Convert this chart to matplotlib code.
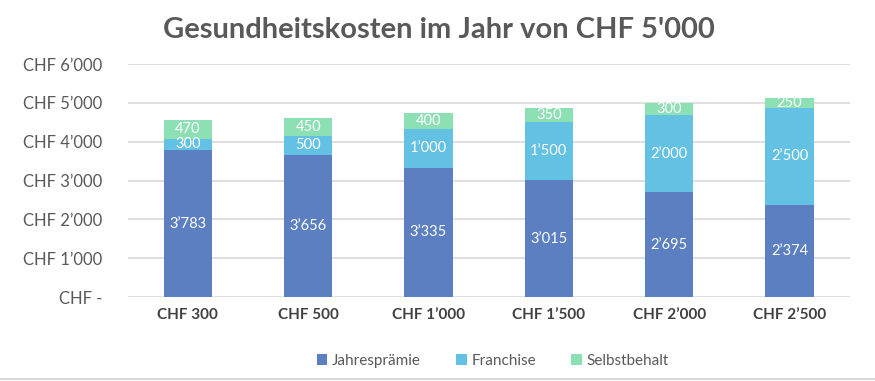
import matplotlib.pyplot as plt
import numpy as np

plt.rcParams['font.family'] = ['Lato', 'DejaVu Sans']

# Daten
kategorien = ["CHF 300", "CHF 500", "CHF 1\u2019000", "CHF 1\u2019500", "CHF 2\u2019000", "CHF 2\u2019500"]
jahrespraemie = [3783, 3656, 3335, 3015, 2695, 2374]
franchise = [300, 500, 1000, 1500, 2000, 2500]
selbstbehalt = [470, 450, 400, 350, 300, 250]

farben = ['#5b7fc1', '#63c1e3', '#8ddfb4']
namen = ['Jahresprämie', 'Franchise', 'Selbstbehalt']


def fmt(v):
    return f"{v:,}".replace(',', '\u2019')


fig = plt.figure(figsize=(8.75, 3.81), dpi=100)
ax = fig.add_axes([0.146, 0.22, 0.825, 0.612])

x = np.arange(len(kategorien))
unten = np.zeros(len(x))
for werte, farbe, name in zip([jahrespraemie, franchise, selbstbehalt], farben, namen):
    bars = ax.bar(x, werte, 0.4, bottom=unten, color=farbe, label=name, zorder=2)
    ax.bar_label(bars, labels=[fmt(v) for v in werte], label_type='center',
                 color='white', fontsize=10.5)
    unten += np.array(werte)

ax.set_xlim(-0.5, len(x) - 0.5)
ax.set_ylim(0, 6000)
ax.set_yticks(range(0, 6001, 1000))
ax.set_yticklabels(["CHF -"] + [f"CHF {fmt(v)}" for v in range(1000, 6001, 1000)])
ax.set_xticks(x)
ax.set_xticklabels(kategorien, fontweight='bold')
ax.tick_params(axis='y', length=0, pad=18, labelsize=12, labelcolor='#595959')
ax.tick_params(axis='x', length=0, pad=8, labelsize=11, labelcolor='#404040')
ax.grid(axis='y', color='#d9d9d9', linewidth=1.2, zorder=0)
for s in ax.spines.values():
    s.set_visible(False)

fig.suptitle("Gesundheitskosten im Jahr von CHF 5'000", x=0.502, y=0.955,
             fontsize=21, fontweight='bold', color='#595959')

fig.legend(loc='center', bbox_to_anchor=(0.563, 0.052), ncol=3, frameon=False,
           fontsize=11, handlelength=0.7, handleheight=0.7, handletextpad=0.3,
           columnspacing=2.3, labelcolor='#595959')

fig.add_artist(plt.Line2D([0, 1], [0.004, 0.004], color='#d9d9d9', linewidth=1.5))

plt.savefig('out.png', dpi=100)
